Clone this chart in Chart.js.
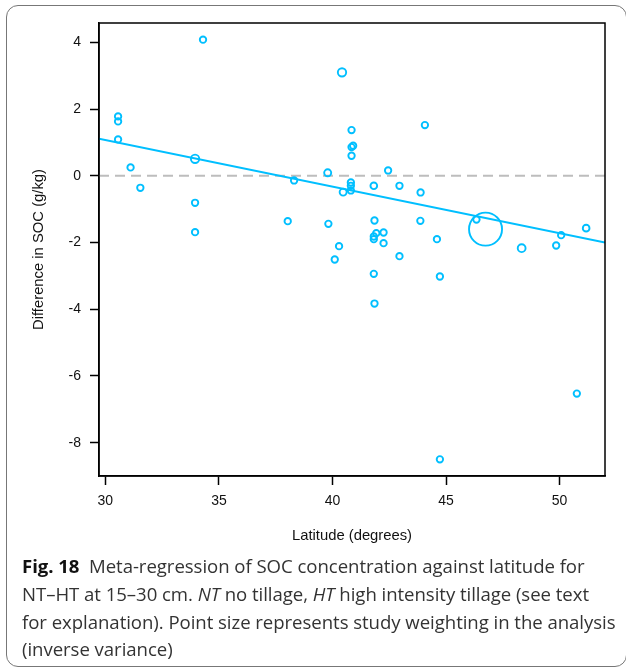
<!DOCTYPE html>
<html>
<head>
<meta charset="utf-8">
<script src="https://cdn.jsdelivr.net/npm/chart.js@4/dist/chart.umd.min.js"></script>
<style>
  html, body { margin: 0; padding: 0; background: #fff; width: 626px; height: 669px; overflow: hidden; }
  #card { position: absolute; left: 6px; top: 5px; width: 621px; height: 662px; border: 1px solid #777; border-radius: 12px; box-sizing: border-box; }
  #wrap { position: absolute; left: 0; top: 0; width: 626px; height: 555px; }
  #caption { position: absolute; left: 22px; top: 552px; width: 600px; font-family: "Open Sans", sans-serif; font-size: 18.6px; line-height: 27.8px; color: #333; letter-spacing: -0.05px; white-space: nowrap; }
  #caption b { color: #111; }
</style>
</head>
<body>
<div id="card"></div>
<div id="wrap"><canvas id="chart" width="626" height="555"></canvas></div>
<div id="caption"><b>Fig. 18</b>&nbsp; Meta-regression of SOC concentration against latitude for<br>NT–HT at 15–30 cm. <i>NT</i> no tillage, <i>HT</i> high intensity tillage (see text<br>for explanation). Point size represents study weighting in the analysis<br>(inverse variance)</div>
<script>
// study latitude, SOC difference (NT - HT, g/kg) and relative weight (inverse variance)
const latitude = [30.56, 30.56, 30.56, 31.11, 31.54, 33.95, 33.95, 33.95, 34.30, 38.31,
  38.03, 39.79, 39.82, 40.10, 40.29, 40.42, 40.47, 40.84, 40.84, 40.91,
  40.84, 40.81, 40.81, 40.81, 41.82, 41.85, 41.93, 41.82, 41.82, 42.25,
  42.25, 41.82, 41.85, 42.45, 42.95, 42.95, 43.88, 43.87, 44.07, 44.60,
  44.73, 44.73, 46.34, 46.74, 48.33, 49.85, 50.07, 50.76, 51.17];
const socDiff = [1.78, 1.63, 1.09, 0.25, -0.36, 0.51, -0.81, -1.69, 4.08, -0.14,
  -1.36, 0.09, -1.44, -2.51, -2.11, 3.10, -0.49, 1.37, 0.86, 0.90,
  0.60, -0.20, -0.30, -0.44, -0.30, -1.34, -1.72, -1.82, -1.90, -1.70,
  -2.02, -2.94, -3.83, 0.16, -0.30, -2.41, -0.50, -1.35, 1.52, -1.90,
  -3.02, -8.50, -1.31, -1.60, -2.17, -2.09, -1.78, -6.53, -1.57];
const weights = [1, 1, 1, 1, 1, 1.7, 1, 1, 1, 1,
  1, 1.2, 1, 1, 1, 1.7, 1.2, 1, 1, 1,
  1, 1, 1, 1, 1.1, 1, 1, 1, 1, 1,
  1, 1, 1, 1, 1, 1, 1, 1, 1, 1,
  1, 1, 1, 26.6, 1.5, 1, 1, 1, 1.1];

// fitted meta-regression
const regIntercept = 5.259;
const regSlope = -0.1396;

const xTicks = [30, 35, 40, 45, 50];
const yTicks = [-8, -6, -4, -2, 0, 2, 4];
const xMin = 29.72, xMax = 52.0;
const yMin = -9.0, yMax = 4.58;

const cyan = "#00bfff";
const points = latitude.map((x, i) => ({ x: x, y: socDiff[i] }));
const radii = weights.map((w) => 3.2 * Math.sqrt(w));

const boxPlugin = {
  id: "box",
  afterDraw(chart) {
    const { ctx, chartArea } = chart;
    ctx.save();
    ctx.strokeStyle = "#000";
    ctx.lineWidth = 1.5;
    ctx.strokeRect(chartArea.left, chartArea.top, chartArea.right - chartArea.left, chartArea.bottom - chartArea.top);
    ctx.restore();
  },
};

const tickFont = { family: "'Liberation Sans', Arial, sans-serif", size: 14 };
const titleFont = { family: "'Liberation Sans', Arial, sans-serif", size: 14.8 };

new Chart(document.getElementById("chart"), {
  type: "scatter",
  data: {
    datasets: [
      {
        label: "Studies",
        data: points,
        pointRadius: radii,
        pointHoverRadius: radii,
        pointBorderColor: cyan,
        pointBackgroundColor: "rgba(0,0,0,0)",
        pointBorderWidth: 1.9,
        order: 0,
      },
      {
        label: "Regression",
        type: "line",
        data: [
          { x: xMin, y: regIntercept + regSlope * xMin },
          { x: xMax, y: regIntercept + regSlope * xMax },
        ],
        borderColor: cyan,
        borderWidth: 2,
        pointRadius: 0,
        fill: false,
        order: 1,
      },
      {
        label: "Zero",
        type: "line",
        data: [
          { x: xMin, y: 0 },
          { x: xMax, y: 0 },
        ],
        borderColor: "#bdbdbd",
        borderWidth: 2,
        borderDash: [10, 6],
        pointRadius: 0,
        fill: false,
        order: 2,
      },
    ],
  },
  options: {
    responsive: false,
    animation: false,
    events: [],
    layout: { padding: { top: 23, right: 21, left: 0, bottom: 0 } },
    plugins: {
      legend: { display: false },
      tooltip: { enabled: false },
    },
    scales: {
      x: {
        type: "linear",
        min: xMin,
        max: xMax,
        afterFit: (scale) => { scale.height = 79; },
        afterBuildTicks: (scale) => { scale.ticks = xTicks.map((v) => ({ value: v })); },
        grid: { drawOnChartArea: false, drawTicks: true, tickLength: 9, color: "#000", tickColor: "#000", tickWidth: 1.5 },
        border: { display: true, color: "#000", width: 1.5 },
        ticks: { color: "#111", font: tickFont, padding: 8, maxRotation: 0, autoSkip: false },
        title: { display: true, text: "Latitude (degrees)", color: "#111", font: titleFont, padding: { top: 0, bottom: 10 } },
      },
      y: {
        type: "linear",
        min: yMin,
        max: yMax,
        afterFit: (scale) => { scale.width = 99; },
        afterBuildTicks: (scale) => { scale.ticks = yTicks.map((v) => ({ value: v })); },
        grid: { drawOnChartArea: false, drawTicks: true, tickLength: 9, color: "#000", tickColor: "#000", tickWidth: 1.5 },
        border: { display: true, color: "#000", width: 1.5 },
        ticks: { color: "#111", font: tickFont, padding: 9, autoSkip: false },
        title: { display: true, text: "Difference in SOC (g/kg)", color: "#111", font: titleFont, padding: { top: 30, bottom: 0 } },
      },
    },
  },
  plugins: [boxPlugin],
});
</script>
</body>
</html>
